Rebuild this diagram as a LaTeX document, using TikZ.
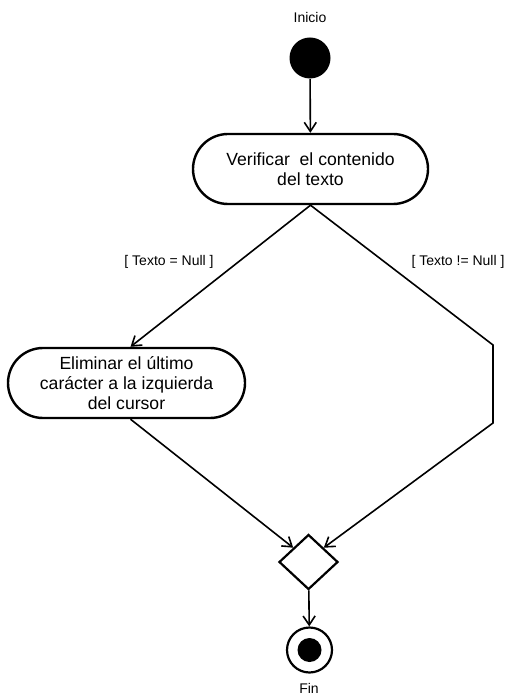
\documentclass[tikz,border=0pt]{standalone}
\usepackage{fontspec}
\setmainfont{Liberation Sans}
\usepackage{tikz}
\usetikzlibrary{shapes.misc}
\usetikzlibrary{shapes.geometric}
\usetikzlibrary{arrows.meta}

\tikzset{
  flujo/.style={line width=0.8pt, -{Straight Barb[length=4.5pt,width=6pt,line width=0.8pt]}},
  actividad/.style={rounded rectangle, draw, line width=1.2pt, minimum height=35pt,
    align=center, inner sep=0pt, font=\fontsize{8.8}{10}\selectfont},
  guarda/.style={font=\fontsize{7}{8}\selectfont},
}

\begin{document}
\begin{tikzpicture}[x=0.5pt,y=-0.5pt]
  \useasboundingbox (0,0) rectangle (512,694);

  % Marking start point
  \node [guarda] (lblInicio) at (310,18) {Inicio};
  \node [circle, fill=black, minimum size=20.5pt, inner sep=0pt] (inicio) at (310,58) {};

  % Drawing activities
  \node [actividad, minimum width=117.5pt] (verificar) at (310.5,169) {Verificar\ \ el contenido\\del texto};
  \node [actividad, minimum width=118.5pt] (eliminar) at (126.5,383) {Eliminar el último\\carácter a la izquierda\\del cursor};

  % Marking merge point
  \node [diamond, draw, line width=1.1pt, minimum width=29.5pt, minimum height=27.5pt, inner sep=0pt] (union) at (308.5,562) {};

  % Marking end point
  \node [circle, draw, line width=1.1pt, minimum size=22.5pt, inner sep=0pt] (fin) at (309.5,650) {};
  \node [circle, fill=black, minimum size=12pt, inner sep=0pt] (finCentro) at (fin) {};
  \node [guarda] (lblFin) at (309,688) {Fin};

  % Drawing guards
  \node [guarda] (lblNull) at (169,262) {[ Texto = Null ]};
  \node [guarda] (lblNoNull) at (458,262) {[ Texto != Null ]};

  % Drawing transitions
  \coordinate (codo1) at (493,345);
  \coordinate (codo2) at (493,423);
  \draw [flujo] (inicio) -- (verificar);
  \draw [flujo] (verificar.south) -- ([xshift=2pt]eliminar.north);
  \draw [flujo] (verificar.south) -- (codo1) -- (codo2) -- (union.north east);
  \draw [flujo] ([xshift=2pt]eliminar.south) -- (union.north west);
  \draw [flujo] (union) -- (fin);
\end{tikzpicture}
\end{document}
